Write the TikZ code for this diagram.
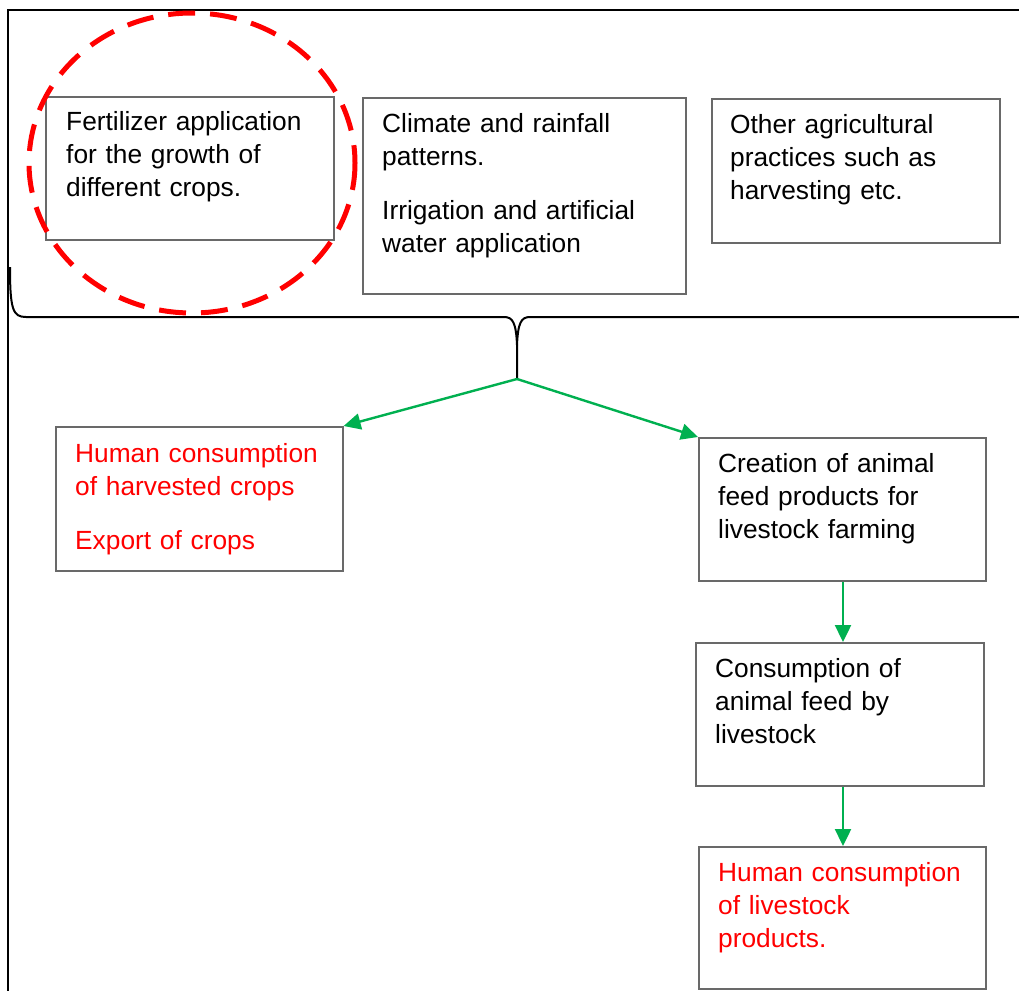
\documentclass[tikz,border=0pt]{standalone}
\usepackage{fontspec}
\setmainfont{Liberation Sans}
\usetikzlibrary{arrows.meta}
\definecolor{boxgray}{RGB}{105,105,105}
\definecolor{flowgreen}{RGB}{0,176,80}
\definecolor{alertred}{RGB}{255,0,0}
\begin{document}
\begin{tikzpicture}[x=1pt,y=-1pt,
  box/.style={draw=boxgray, line width=1.6pt, fill=white, rectangle,
    inner sep=0pt, anchor=north west},
  txt/.style={anchor=base west, inner sep=0pt, text width=320pt, align=left,
    font=\fontsize{26.3}{33}\selectfont},
  redtxt/.style={txt, text=alertred},
  flow/.style={draw=flowgreen, line width=2.4pt,
    -{Triangle[length=17pt,width=16pt]}},
  frame/.style={draw=black, line width=2pt},
  highlight/.style={draw=alertred, line width=5pt, dash pattern=on 27pt off 15pt}]
\useasboundingbox (0,0) rectangle (1019,990);
\clip (0,0) rectangle (1019,990);
\fill[white] (0,0) rectangle (1019,990);

% outer frame (runs past the right and bottom edges)
\draw[frame] (1040,10) -- (8,10) -- (8,1010);

% top row of factors
\node[box, minimum width=288pt, minimum height=143pt] (fert) at (45,96) {};
\node[txt] (fertT) at (66,130) {Fertilizer application\\for the growth of\\different crops.};

\node[box, minimum width=323pt, minimum height=196pt] (climate) at (362,97) {};
\node[txt] (climateT) at (382,132) {Climate and rainfall\\patterns.\\[21pt]Irrigation and artificial\\water application};

\node[box, minimum width=288pt, minimum height=144pt] (other) at (711,98) {};
\node[txt] (otherT) at (730,133) {Other agricultural\\practices such as\\harvesting etc.};

% grouping brace under the top row
\draw[frame] (10,267) .. controls (10,310) and (13,317) .. (26,317) -- (504,317)
  .. controls (513,317) and (516,323) .. (517,345) -- (517,379);
\draw[frame] (517,345) .. controls (518,323) and (521,317) .. (530,317) -- (1040,317);
\coordinate (tip) at (517,379);

% outcomes
\node[box, minimum width=287pt, minimum height=144pt] (harv) at (55,426) {};
\node[redtxt] (harvT) at (75,462) {Human consumption\\of harvested crops\\[21pt]Export of crops};

\node[box, minimum width=287pt, minimum height=143pt] (feed) at (698,437) {};
\node[txt] (feedT) at (718,472) {Creation of animal\\feed products for\\livestock farming};

\node[box, minimum width=288pt, minimum height=143pt] (eat) at (695,642) {};
\node[txt] (eatT) at (715,677) {Consumption of\\animal feed by\\livestock};

\node[box, minimum width=287pt, minimum height=142pt] (meat) at (698,846) {};
\node[redtxt] (meatT) at (718,881) {Human consumption\\of livestock\\products.};

% flow arrows
\draw[flow] (tip) -- (harv.north east);
\draw[flow] (tip) -- (feed.north west);
\draw[flow] (feed.south -| 843,0) -- (eat.north -| 843,0);
\draw[flow] (eat.south -| 843,0) -- (meat.north -| 843,0);

% dashed emphasis ring around the fertilizer box
\draw[highlight] (192,163) ellipse [x radius=163, y radius=150];
\end{tikzpicture}
\end{document}
